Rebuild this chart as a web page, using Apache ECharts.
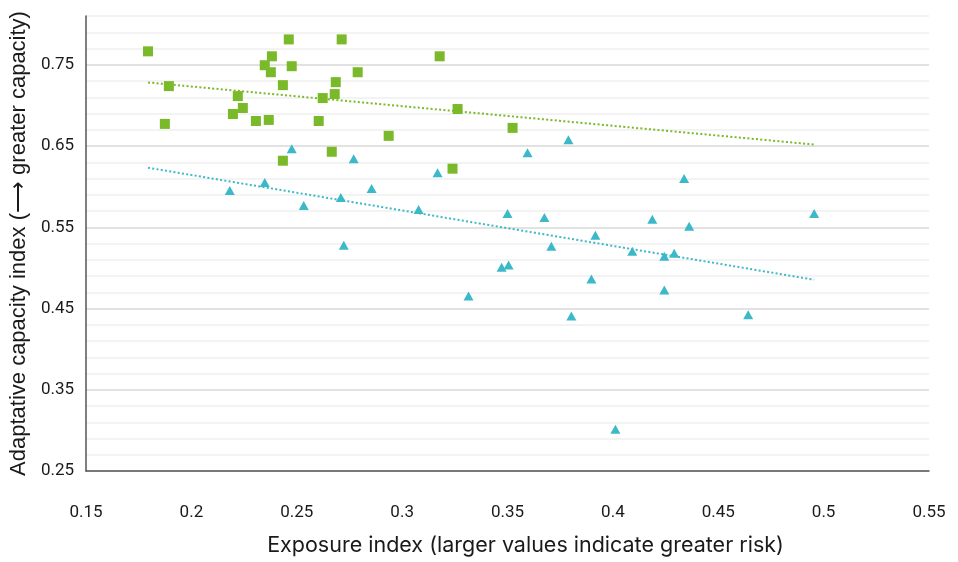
<!DOCTYPE html>
<html>
<head>
<meta charset="utf-8">
<script src="https://cdn.jsdelivr.net/npm/echarts@6/dist/echarts.min.js"></script>
<style>html,body{margin:0;padding:0;background:#fff}#c{width:958px;height:562px}</style>
</head>
<body>
<div id="c"></div>
<script>
// Green squares (exposure, adaptive capacity)
const greenX = [0.1794,0.1893,0.1874,0.2220,0.2244,0.2197,0.2306,0.2367,0.2348,0.2382,0.2377,0.2434,0.2434,0.2462,0.2476,0.2604,0.2623,0.2666,0.2680,0.2685,0.2713,0.2789,0.2936,0.3178,0.3239,0.3263,0.3524];
const greenY = [0.7665,0.7237,0.6772,0.7114,0.6968,0.6894,0.6808,0.6821,0.7494,0.7604,0.7408,0.7249,0.6319,0.7812,0.7482,0.6808,0.7090,0.6429,0.7139,0.7286,0.7812,0.7408,0.6625,0.7604,0.6221,0.6955,0.6723];
// Teal triangles
const tealX = [0.2476,0.2182,0.2348,0.2533,0.2709,0.2723,0.2770,0.2855,0.3078,0.3168,0.3315,0.3472,0.3505,0.3500,0.3595,0.3675,0.3708,0.3789,0.3803,0.3898,0.3917,0.4012,0.4092,0.4187,0.4244,0.4244,0.4291,0.4338,0.4362,0.4642,0.4955];
const tealY = [0.6466,0.5952,0.6050,0.5768,0.5866,0.5278,0.6343,0.5976,0.5719,0.6172,0.4654,0.5009,0.5034,0.5670,0.6417,0.5621,0.5266,0.6576,0.4409,0.4862,0.5401,0.3014,0.5205,0.5597,0.5144,0.4728,0.5181,0.6099,0.5511,0.4422,0.5670];
// Trend line endpoints
const greenTrendX = [0.1794, 0.4955];
const greenTrendY = [0.7282, 0.6518];
const tealTrendX = [0.1794, 0.4955];
const tealTrendY = [0.6233, 0.4854];
// Axis tick labels
const xTicks = ['0.15','0.2','0.25','0.3','0.35','0.4','0.45','0.5','0.55'];
const yTicks = ['0.25','0.35','0.45','0.55','0.65','0.75'];

const GREEN = '#7ab929';
const TEAL = '#3cb9c8';
const zip = (a, b) => a.map((v, i) => [v, b[i]]);
const tickFont = "'Roboto',sans-serif";

const chart = echarts.init(document.getElementById('c'), null, {renderer: 'canvas'});
chart.setOption({
  animation: false,
  backgroundColor: '#ffffff',
  grid: {left: 84, right: 29, top: 16, bottom: 87, containLabel: false},
  xAxis: {
    type: 'value', min: 0.15, max: 0.55, interval: 0.05,
    name: 'Exposure index (larger values indicate greater risk)',
    nameLocation: 'middle', nameGap: 64,
    nameTextStyle: {fontFamily: 'Inter', fontSize: 21.5, color: '#1a1a1a', padding: [0, 0, 0, 36]},
    axisLine: {show: true, lineStyle: {color: '#555', width: 1.5}},
    axisTick: {show: false},
    splitLine: {show: false},
    axisLabel: {
      margin: 33, fontFamily: tickFont, fontSize: 17, color: '#1a1a1a',
      formatter: v => { const s = xTicks.find(t => Math.abs(parseFloat(t) - v) < 1e-6); return s || ''; }
    }
  },
  yAxis: {
    type: 'value', min: 0.25, max: 0.81, interval: 0.02,
    name: 'Adaptative capacity index (⟶ greater capacity)',
    nameLocation: 'middle', nameGap: 50, nameRotate: 90,
    nameTextStyle: {fontFamily: 'Liberation Sans', fontSize: 22, color: '#1a1a1a'},
    axisLine: {show: true, lineStyle: {color: '#555', width: 1.5}},
    axisTick: {show: false},
    splitLine: {show: true, lineStyle: {color: ['#d9d9d9','#efefef','#efefef','#efefef','#efefef'], width: 1.5}},
    axisLabel: {
      margin: 12, fontFamily: tickFont, fontSize: 17, color: '#1a1a1a',
      formatter: v => { const s = yTicks.find(t => Math.abs(parseFloat(t) - v) < 1e-6); return s || ''; }
    }
  },
  series: [
    {type: 'line', data: zip(greenTrendX, greenTrendY), showSymbol: false, symbol: 'none', z: 1,
     lineStyle: {color: GREEN, width: 2, type: [2, 2.3]}},
    {type: 'line', data: zip(tealTrendX, tealTrendY), showSymbol: false, symbol: 'none', z: 1,
     lineStyle: {color: TEAL, width: 2, type: [2, 2.3]}},
    {type: 'scatter', data: zip(greenX, greenY), symbol: 'rect', symbolSize: 10, z: 3,
     itemStyle: {color: GREEN, opacity: 1}},
    {type: 'scatter', data: zip(tealX, tealY), symbol: 'triangle', symbolSize: [10, 9], z: 3,
     itemStyle: {color: TEAL, opacity: 1}}
  ]
});
</script>
</body>
</html>
